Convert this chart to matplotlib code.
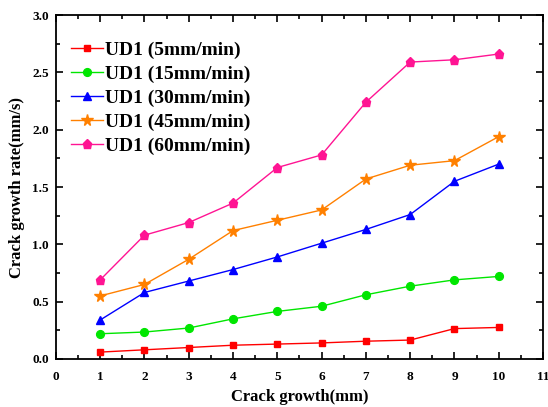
import matplotlib
matplotlib.use("Agg")
import matplotlib.pyplot as plt
from matplotlib.ticker import MultipleLocator

plt.rcParams['font.family'] = ['Liberation Serif', 'DejaVu Serif']
plt.rcParams['font.weight'] = 'bold'

# crack growth (mm)
crack = [1, 2, 3, 4, 5, 6, 7, 8, 9, 10]

# crack growth rate (mm/s) for each loading speed
rate_5 = [0.06, 0.08, 0.10, 0.12, 0.13, 0.14, 0.155, 0.165, 0.265, 0.275]
rate_15 = [0.22, 0.235, 0.27, 0.35, 0.415, 0.46, 0.56, 0.635, 0.69, 0.72]
rate_30 = [0.34, 0.58, 0.68, 0.78, 0.89, 1.01, 1.13, 1.26, 1.55, 1.70]
rate_45 = [0.55, 0.65, 0.87, 1.12, 1.21, 1.30, 1.57, 1.69, 1.73, 1.94]
rate_60 = [0.69, 1.08, 1.19, 1.36, 1.67, 1.78, 2.24, 2.59, 2.61, 2.66]

labels = ['UD1 (5mm/min)', 'UD1 (15mm/min)', 'UD1 (30mm/min)',
          'UD1 (45mm/min)', 'UD1 (60mm/min)']

# 线条样式
styles = [
    dict(color='#ff0000', marker='s', ms=4.8),
    dict(color='#00e600', marker='o', ms=5.6),
    dict(color='#0000ff', marker='^', ms=6.2),
    dict(color='#ff8000', marker='*', ms=8.5),
    dict(color='#ff1493', marker='p', ms=6.8),
]

fig = plt.figure(figsize=(5.48, 4.07), dpi=100)
ax = fig.add_axes([0.102, 0.118, 0.889, 0.845])

for ys, lab, st in zip([rate_5, rate_15, rate_30, rate_45, rate_60], labels, styles):
    ax.plot(crack, ys, lw=1, label=lab, **st)

ax.set_xlim(0, 11)
ax.set_ylim(0, 3.0)
ax.xaxis.set_major_locator(MultipleLocator(1))
ax.xaxis.set_minor_locator(MultipleLocator(0.5))
ax.yaxis.set_major_locator(MultipleLocator(0.5))
ax.yaxis.set_minor_locator(MultipleLocator(0.25))
ax.tick_params(which='both', direction='in', top=True, right=True, labelsize=9.5, width=1.2)
ax.tick_params(which='major', length=5)
ax.tick_params(which='minor', length=3)
ax.tick_params(axis='x', which='major', pad=9)
ax.tick_params(axis='y', which='major', pad=5)
for sp in ax.spines.values():
    sp.set_linewidth(1.3)

ax.set_xlabel('Crack growth(mm)', fontsize=12, fontweight='bold', labelpad=4)
ax.set_ylabel('Crack growth rate(mm/s)', fontsize=12, fontweight='bold', labelpad=5)

ax.legend(loc='upper left', bbox_to_anchor=(0.016, 0.947), borderaxespad=0,
          frameon=False, handlelength=1.6, handletextpad=0.1, labelspacing=0.33,
          prop={'weight': 'bold', 'size': 14})

fig.savefig('out.png', dpi=100)
